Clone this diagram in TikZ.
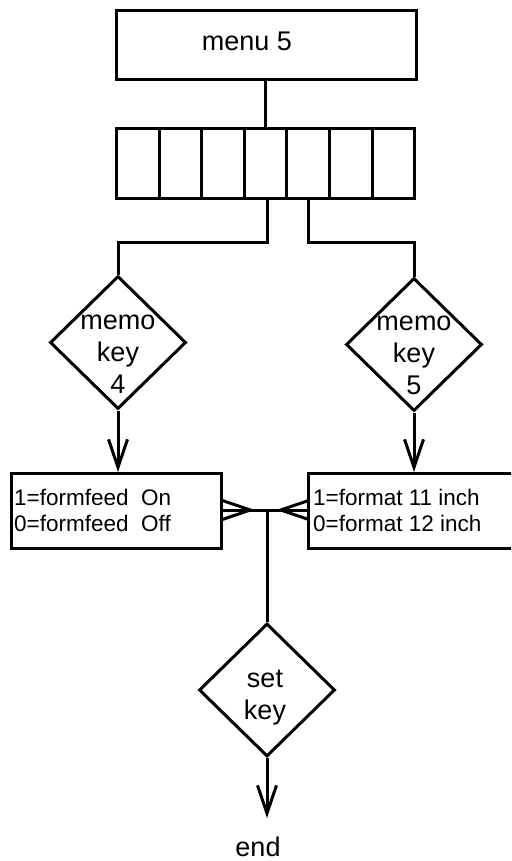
\documentclass[tikz,border=0pt]{standalone}
\usepackage{fontspec}
\setmainfont{Liberation Sans}
\usetikzlibrary{shapes.geometric,arrows.meta,calc}

\tikzset{
  wire/.style={line width=3pt},
  boxnode/.style={draw, line width=3pt, inner sep=0pt},
  decision/.style={draw, diamond, line width=3pt, inner sep=0pt,
    minimum width=136pt, minimum height=133pt},
  bigtext/.style={font=\fontsize{27}{32}\selectfont, inner sep=0pt, align=center},
  smalltext/.style={font=\fontsize{22.5}{26}\selectfont, align=left},
  openhead/.style={-{Straight Barb[length=28pt,width=19pt,line width=3pt]}},
}

\begin{document}
\begin{tikzpicture}[x=1pt,y=-1pt]
  \useasboundingbox (0,0) rectangle (511,861);
  \clip (0,0) rectangle (511,861);

  % top menu box
  \node[boxnode, minimum width=300pt, minimum height=69pt, anchor=north west]
    (menu) at (115,9) {};
  \node[bigtext] (menutxt) at (247,41) {menu 5};

  % row of seven key cells
  \foreach \i in {0,...,6} {
    \node[boxnode, minimum width=42.6pt, minimum height=70pt, anchor=north west]
      (c\i) at ({115+42.6*\i},127) {};
  }
  \coordinate (rowtop) at (265,127);
  \coordinate (outL) at (267,197);
  \coordinate (outR) at (308,197);

  % memo key decisions
  \node[decision] (d4) at (118,342.5) {};
  \node[bigtext] (d4t) at (118,354) {memo\\key\\4};
  \node[decision] (d5) at (414,344.5) {};
  \node[bigtext] (d5t) at (414,355) {memo\\key\\5};

  % result boxes
  \node[boxnode, minimum width=210pt, minimum height=75pt, anchor=north west]
    (b4) at (10,472) {};
  \node[smalltext, anchor=west, inner sep=0pt] (b4t) at (14,510)
    {1=formfeed\ \ On\\0=formfeed\ \ Off};
  \node[boxnode, minimum width=225pt, minimum height=75pt, anchor=north west]
    (b5) at (307,472) {};
  \node[smalltext, anchor=west, inner sep=0pt] (b5t) at (313,510)
    {1=format 11 inch\\0=format 12 inch};

  % merge point and final decision
  \coordinate (jn) at (267,510);
  \node[decision] (sk) at (267,690) {};
  \node[bigtext] (skt) at (265,698) {set\\key};
  \coordinate (endpt) at (267,818);
  \node[bigtext, anchor=center] (endtxt) at (258,847) {end};

  % connectors
  \draw[wire] (menu.south -| rowtop) -- (rowtop);
  \draw[wire] (outL) |- (118,242) -- (d4.north);
  \draw[wire] (outR) |- (414,242) -- (d5.north);
  \draw[wire, openhead] (d4.south) -- (d4.south |- b4.north);
  \draw[wire, openhead] (d5.south) -- (d5.south |- b5.north);
  \draw[wire] (b4.east |- jn) -- (jn);
  \draw[wire, openhead] (b4.east |- jn) -- ($(jn)+(-12,0)$);
  \draw[wire] (b5.west |- jn) -- (jn);
  \draw[wire, openhead] (b5.west |- jn) -- ($(jn)+(9,0)$);
  \draw[wire] (jn) -- (sk.north);
  \draw[wire, openhead] (sk.south) -- (endpt);
\end{tikzpicture}
\end{document}
